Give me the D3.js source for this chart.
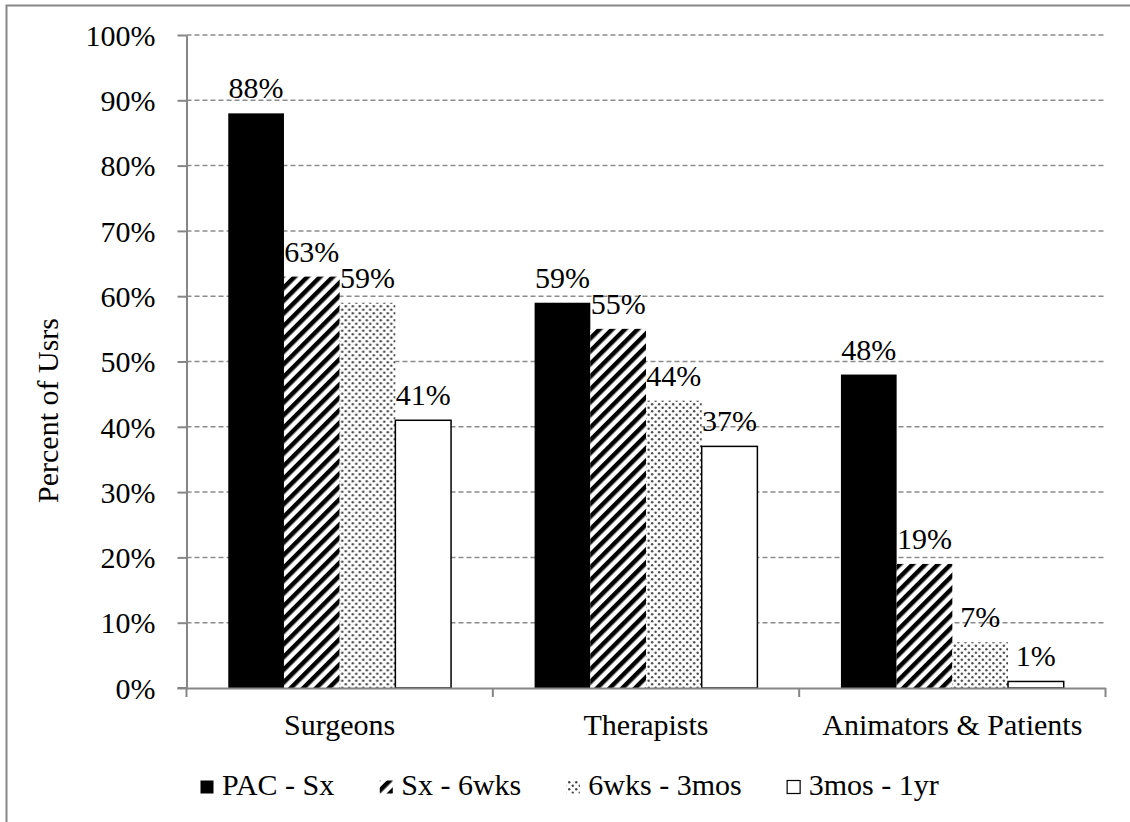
<!DOCTYPE html>
<html>
<head>
<meta charset="utf-8">
<script src="https://cdn.jsdelivr.net/npm/d3@7"></script>
<style>
  html, body { margin: 0; padding: 0; background: #fff; }
  svg { display: block; }
  svg text { font-family: "Liberation Serif", "DejaVu Serif", serif !important; fill: #000; }
</style>
</head>
<body>
<svg id="chart" width="1130" height="822" font-family="Liberation Serif"></svg>
<script>
// Share of users by period of use, per user group
const categories = ["Surgeons", "Therapists", "Animators & Patients"];
const seriesNames = ["PAC - Sx", "Sx - 6wks", "6wks - 3mos", "3mos - 1yr"];
const pacSx = [88, 59, 48];
const sx6wks = [63, 55, 19];
const wks6mos3 = [59, 44, 7];
const mos3yr1 = [41, 37, 1];
const yTicks = [0, 10, 20, 30, 40, 50, 60, 70, 80, 90, 100];
const yTitle = "Percent of Usrs";

const seriesValues = [pacSx, sx6wks, wks6mos3, mos3yr1];
const fills = ["#000", "url(#hatch)", "url(#dots)", "#fff"];

const svg = d3.select("#chart");
const fontSize = 30;
const serif = "'Liberation Serif', 'DejaVu Serif', serif";

// Patterns for the hatched and dotted series
const defs = svg.append("defs");
const hatch = defs.append("pattern")
  .attr("id", "hatch").attr("patternUnits", "userSpaceOnUse")
  .attr("width", 9).attr("height", 9)
  .attr("patternTransform", "rotate(45)");
hatch.append("rect").attr("width", 9).attr("height", 9).attr("fill", "#fff");
hatch.append("rect").attr("x", 0).attr("width", 4.5).attr("height", 9).attr("fill", "#000");

const dots = defs.append("pattern")
  .attr("id", "dots").attr("patternUnits", "userSpaceOnUse")
  .attr("width", 7).attr("height", 7);
dots.append("rect").attr("width", 7).attr("height", 7).attr("fill", "#fff");
dots.append("circle").attr("cx", 1.75).attr("cy", 1.75).attr("r", 1.2).attr("fill", "#444");
dots.append("circle").attr("cx", 5.25).attr("cy", 5.25).attr("r", 1.2).attr("fill", "#444");

// Chart frame (left and top edges)
svg.append("path")
  .attr("d", "M6.5,822 L6.5,5.5 L1130,5.5")
  .attr("fill", "none").attr("stroke", "#888").attr("stroke-width", 2);

const plotLeft = 186.5, plotRight = 1105.5, plotTop = 35, plotBottom = 688;

const y = d3.scaleLinear().domain([0, 100]).range([plotBottom, plotTop]);
const x0 = d3.scaleBand().domain(categories).range([plotLeft, plotRight]).padding(0);
const x1 = d3.scaleBand().domain(seriesNames).range([0, x0.bandwidth()])
  .paddingInner(0).paddingOuter(0.75);

// Dashed gridlines
svg.append("g").selectAll("line")
  .data(yTicks.filter(d => d > 0))
  .join("line")
  .attr("x1", plotLeft).attr("x2", plotRight)
  .attr("y1", d => y(d)).attr("y2", d => y(d))
  .attr("stroke", "#8c8c8c").attr("stroke-width", 1.5)
  .attr("stroke-dasharray", "5,3");

// Y axis
const yAxis = d3.axisLeft(y).tickValues(yTicks).tickFormat(d => d + "%")
  .tickSizeInner(9).tickSizeOuter(0).tickPadding(22);
const gy = svg.append("g").attr("transform", `translate(${plotLeft},0)`).call(yAxis)
  .attr("font-family", serif).attr("font-size", fontSize);
gy.select(".domain").attr("stroke", "#868686").attr("stroke-width", 2);
gy.selectAll(".tick line").attr("stroke", "#868686").attr("stroke-width", 2);
gy.selectAll(".tick text").attr("fill", "#000").attr("dy", "0.34em");

// Bars
const groups = svg.append("g").selectAll("g")
  .data(categories)
  .join("g")
  .attr("transform", d => `translate(${x0(d)},0)`);

groups.each(function(cat, ci) {
  const g = d3.select(this);
  seriesNames.forEach((s, si) => {
    const v = seriesValues[si][ci];
    g.append("rect")
      .attr("x", x1(s)).attr("width", x1.bandwidth())
      .attr("y", y(v)).attr("height", y(0) - y(v))
      .attr("fill", fills[si])
      .attr("stroke", si === 3 ? "#000" : "none")
      .attr("stroke-width", si === 3 ? 1.5 : 0);
    g.append("text")
      .attr("x", x1(s) + x1.bandwidth() / 2)
      .attr("y", y(v) - 15)
      .attr("text-anchor", "middle")
      .attr("font-family", serif)
      .attr("font-size", fontSize)
      .text(v + "%");
  });
});

// X axis
const xAxis = d3.axisBottom(x0).tickSize(0).tickPadding(0);
const gx = svg.append("g").attr("transform", `translate(0,${plotBottom})`).call(xAxis)
  .attr("font-family", serif).attr("font-size", fontSize);
gx.select(".domain").attr("stroke", "#868686").attr("stroke-width", 2);
gx.selectAll(".tick text").remove();
// boundary ticks between categories
const bounds = [plotLeft, ...categories.map(c => x0(c) + x0.bandwidth())];
gx.selectAll(".bound").data(bounds).join("line")
  .attr("class", "bound")
  .attr("x1", d => d).attr("x2", d => d)
  .attr("y1", 0).attr("y2", 9)
  .attr("stroke", "#868686").attr("stroke-width", 2);
svg.append("line")
  .attr("x1", plotLeft - 9).attr("x2", plotLeft).attr("y1", plotBottom).attr("y2", plotBottom)
  .attr("stroke", "#868686").attr("stroke-width", 2);
gx.selectAll(".cat").data(categories).join("text")
  .attr("class", "cat")
  .attr("x", d => x0(d) + x0.bandwidth() / 2)
  .attr("y", 47)
  .attr("text-anchor", "middle")
  .attr("fill", "#000")
  .text(d => d);

// Y axis title
svg.append("text")
  .attr("transform", `translate(58,${(plotTop + plotBottom) / 2 + 49}) rotate(-90)`)
  .attr("text-anchor", "middle")
  .attr("font-family", serif)
  .attr("font-size", fontSize)
  .text(yTitle);

// Legend
const legend = svg.append("g").attr("transform", "translate(200,0)")
  .attr("font-family", serif).attr("font-size", fontSize);
let cx = 0;
const itemGap = 45, iconSize = 14, iconTextGap = 8, legendBase = 795;
seriesNames.forEach((s, i) => {
  legend.append("rect")
    .attr("x", cx + 0.5).attr("y", legendBase - iconSize - 0.5)
    .attr("width", iconSize - 1).attr("height", iconSize - 1)
    .attr("fill", fills[i])
    .attr("stroke", i === 3 ? "#000" : "none")
    .attr("stroke-width", 1.2);
  const t = legend.append("text")
    .attr("x", cx + iconSize + iconTextGap).attr("y", legendBase)
    .text(s);
  cx += iconSize + iconTextGap + t.node().getComputedTextLength() + itemGap;
});
</script>
</body>
</html>
